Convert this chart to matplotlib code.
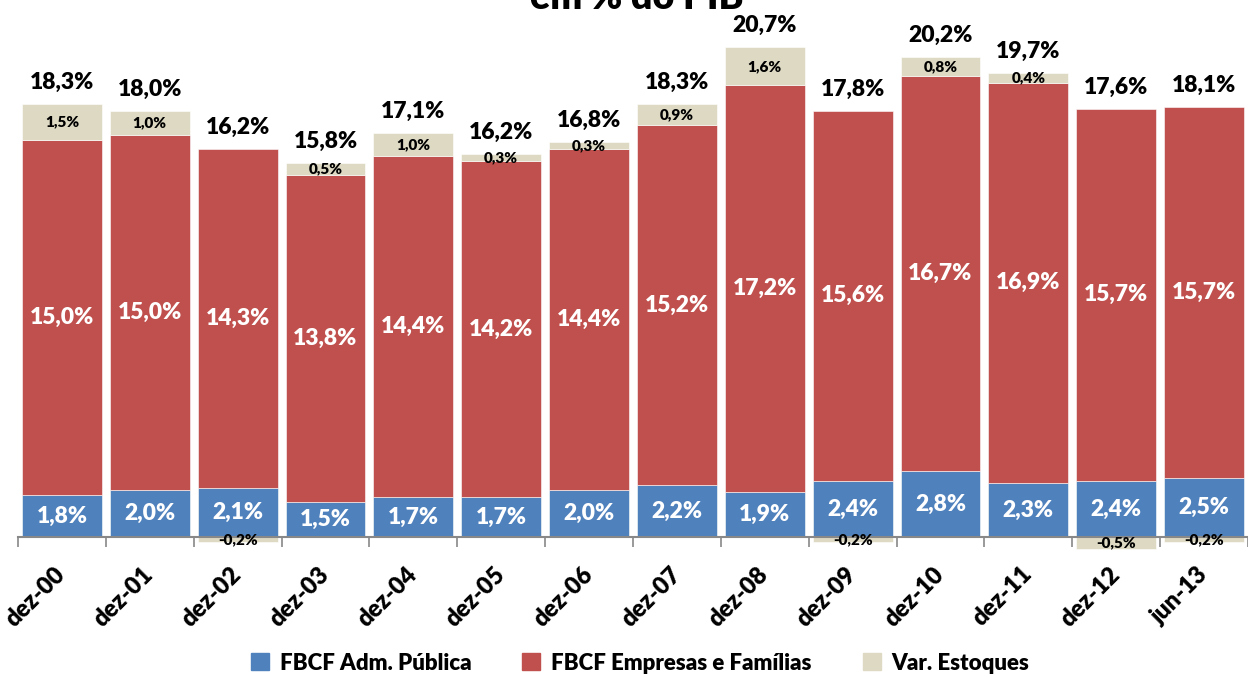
import matplotlib.pyplot as plt
import numpy as np
from matplotlib.patches import Patch

plt.rcParams['font.family'] = ['Lato', 'DejaVu Sans']

# data (% do PIB)
periods = ["dez-00", "dez-01", "dez-02", "dez-03", "dez-04", "dez-05", "dez-06",
           "dez-07", "dez-08", "dez-09", "dez-10", "dez-11", "dez-12", "jun-13"]
adm_publica = [1.8, 2.0, 2.1, 1.5, 1.7, 1.7, 2.0, 2.2, 1.9, 2.4, 2.8, 2.3, 2.4, 2.5]
empresas = [15.0, 15.0, 14.3, 13.8, 14.4, 14.2, 14.4, 15.2, 17.2, 15.6, 16.7, 16.9, 15.7, 15.7]
estoques = [1.5, 1.0, -0.2, 0.5, 1.0, 0.3, 0.3, 0.9, 1.6, -0.2, 0.8, 0.4, -0.5, -0.2]
totais = [18.3, 18.0, 16.2, 15.8, 17.1, 16.2, 16.8, 18.3, 20.7, 17.8, 20.2, 19.7, 17.6, 18.1]

blue = "#4F81BD"
red = "#C0504D"
beige = "#DDD9C3"
W = "heavy"

def pct(v):
    return f"{v:.1f}%".replace(".", ",")

fig = plt.figure(figsize=(12.48, 6.77), dpi=100)
ax = fig.add_axes([18 / 1248, 1 - 561 / 677, 1 - 18 / 1248, 561 / 677])

x = np.arange(len(periods))
pub = np.array(adm_publica)
emp = np.array(empresas)
est = np.array(estoques)
w = 0.91

ax.bar(x, pub, w, color=blue, edgecolor="white", linewidth=0.4)
ax.bar(x, emp, w, bottom=pub, color=red, edgecolor="white", linewidth=0.4)
est_bottom = np.where(est > 0, pub + emp, 0)
ax.bar(x, est, w, bottom=est_bottom, color=beige, edgecolor="white", linewidth=0.4)

for i in range(len(x)):
    ax.text(x[i], pub[i] / 2, pct(pub[i]), ha="center", va="center",
            color="white", fontsize=16.5, fontweight=W)
    ax.text(x[i], pub[i] + emp[i] / 2, pct(emp[i]), ha="center", va="center",
            color="white", fontsize=16.5, fontweight=W)
    ax.text(x[i], est_bottom[i] + est[i] / 2, pct(est[i]), ha="center", va="center",
            color="black", fontsize=11, fontweight=W)
    top = pub[i] + emp[i] + max(est[i], 0)
    ax.annotate(pct(totais[i]), (x[i], top), xytext=(0, 8), textcoords="offset points",
                ha="center", va="bottom", fontsize=16.5, fontweight=W)

ax.set_xlim(-0.5, len(x) - 0.5)
ax.set_ylim(-1, 22.7)
for s in ["top", "right", "left"]:
    ax.spines[s].set_visible(False)
ax.spines["bottom"].set_position(("data", 0))
ax.spines["bottom"].set_color("#888888")
ax.spines["bottom"].set_linewidth(1.5)
ax.set_yticks([])
ax.set_xticks(x)
ax.set_xticks(np.arange(len(x) + 1) - 0.5, minor=True)
ax.tick_params(axis="x", which="major", length=0, pad=24)
ax.tick_params(axis="x", which="minor", length=7, color="#888888", width=1.2)
ax.set_xticklabels(periods, rotation=45, ha="right", va="center",
                   rotation_mode="anchor", fontsize=17, fontweight=W)

fig.text(0.51, 1 - 9 / 677, "em % do PIB", ha="center", va="baseline",
         fontsize=27, fontweight=W)

handles = [Patch(color=blue), Patch(color=red), Patch(color=beige)]
fig.legend(handles, ["FBCF Adm. Pública", "FBCF Empresas e Famílias", "Var. Estoques"],
           loc="center", bbox_to_anchor=(0.513, 1 - 663 / 677), ncol=3, frameon=False,
           prop={"weight": W, "size": 16}, handlelength=0.8, handleheight=0.8,
           columnspacing=2.3, handletextpad=0.5)

fig.savefig("out.png", dpi=100)
